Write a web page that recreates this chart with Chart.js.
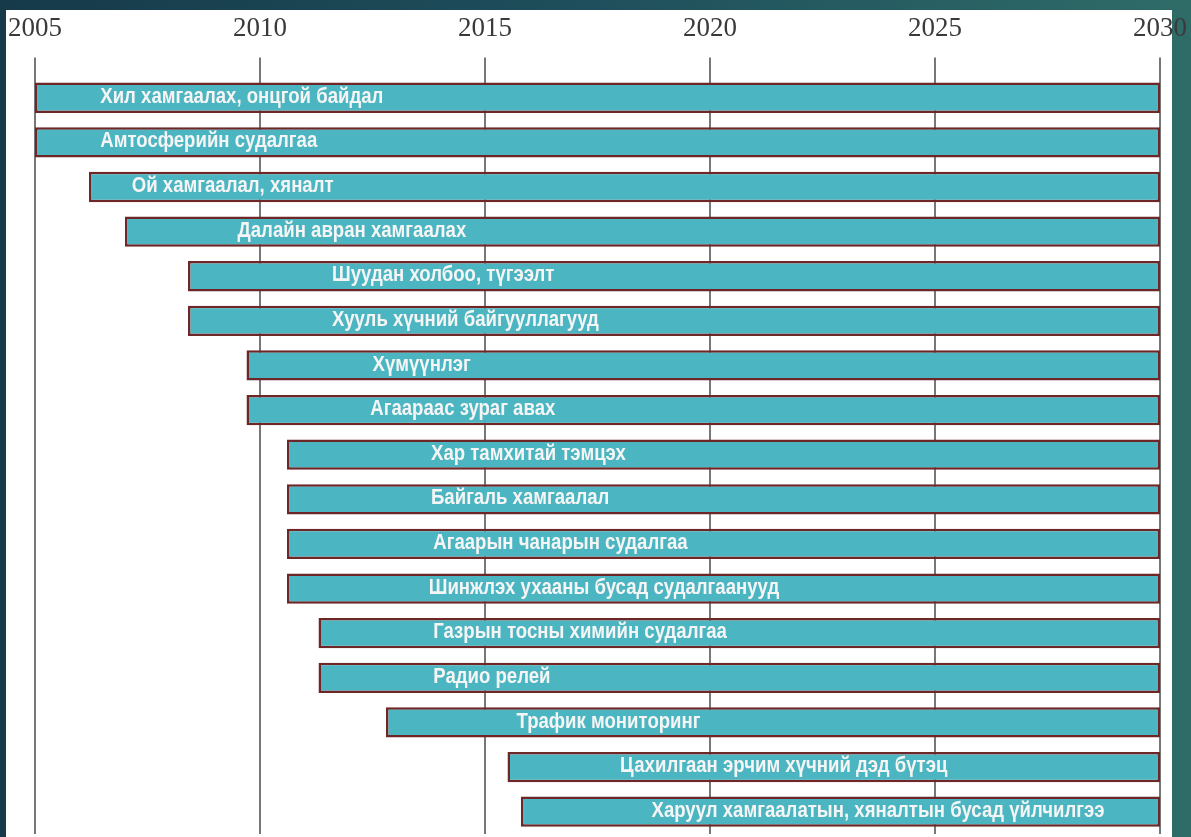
<!DOCTYPE html>
<html>
<head>
<meta charset="utf-8">
<script src="https://cdn.jsdelivr.net/npm/chart.js@4"></script>
<style>
  html, body { margin: 0; padding: 0; background: #1b4555; }
  #wrap { position: absolute; left: 0; top: 0; width: 1191px; height: 837px; }
</style>
</head>
<body>
<div id="wrap"><canvas id="c" width="1191" height="837"></canvas></div>
<script>
// ---- data ----
const categories = [
  "Хил хамгаалах, онцгой байдал",
  "Амтосферийн судалгаа",
  "Ой хамгаалал, хяналт",
  "Далайн авран хамгаалах",
  "Шуудан холбоо, түгээлт",
  "Хууль хүчний байгууллагууд",
  "Хүмүүнлэг",
  "Агаараас зураг авах",
  "Хар тамхитай тэмцэх",
  "Байгаль хамгаалал",
  "Агаарын чанарын судалгаа",
  "Шинжлэх ухааны бусад судалгаанууд",
  "Газрын тосны химийн судалгаа",
  "Радио релей",
  "Трафик мониторинг",
  "Цахилгаан эрчим хүчний дэд бүтэц",
  "Харуул хамгаалатын, хяналтын бусад үйлчилгээ"
];
const startYears = [2005, 2005, 2006.2, 2007.0, 2008.4, 2008.4, 2009.7, 2009.7, 2010.6, 2010.6, 2010.6, 2010.6, 2011.3, 2011.3, 2012.8, 2015.5, 2015.8];
const endYears   = [2030, 2030, 2030, 2030, 2030, 2030, 2030, 2030, 2030, 2030, 2030, 2030, 2030, 2030, 2030, 2030, 2030];
// year at which each label text begins
const labelYears = [2006.45, 2006.45, 2007.15, 2009.5, 2011.6, 2011.6, 2012.5, 2012.45, 2013.8, 2013.8, 2013.85, 2013.75, 2013.85, 2013.85, 2015.7, 2018.0, 2018.7];
const tickYears  = [2005, 2010, 2015, 2020, 2025, 2030];

const ranges = startYears.map((s, i) => [s, endYears[i]]);

const bgPlugin = {
  id: 'bg',
  beforeDraw(chart) {
    const ctx = chart.ctx;
    const w = chart.width, h = chart.height;
    ctx.save();
    const g = ctx.createLinearGradient(0, 0, w, 0);
    g.addColorStop(0, '#163a4a');
    g.addColorStop(0.5, '#1f4f5c');
    g.addColorStop(1, '#2f6c68');
    ctx.fillStyle = g;
    ctx.fillRect(0, 0, w, h);
    ctx.fillStyle = '#ffffff';
    ctx.fillRect(6, 10, 1166, h - 10);
    ctx.restore();
  }
};

const labelPlugin = {
  id: 'barLabels',
  afterDatasetsDraw(chart) {
    const ctx = chart.ctx;
    const xs = chart.scales.x;
    const meta = chart.getDatasetMeta(0);
    const sx = 0.845;
    ctx.save();
    ctx.font = 'bold 22px "Liberation Sans Narrow", "Liberation Sans", Arial, sans-serif';
    ctx.fillStyle = '#f5f5f5';
    ctx.textBaseline = 'middle';
    ctx.textAlign = 'left';
    meta.data.forEach((bar, i) => {
      const x = xs.getPixelForValue(labelYears[i]);
      ctx.save();
      ctx.translate(x, bar.y - 1);
      ctx.scale(sx, 1);
      ctx.fillText(categories[i], 0, 0);
      ctx.restore();
    });
    ctx.restore();
  }
};

new Chart(document.getElementById('c'), {
  type: 'bar',
  data: {
    labels: categories,
    datasets: [{
      data: ranges,
      backgroundColor: '#4bb6c1',
      borderColor: '#6e2626',
      borderWidth: 2.5,
      borderSkipped: false,
      barPercentage: 0.68,
      categoryPercentage: 1.0
    }]
  },
  options: {
    indexAxis: 'y',
    responsive: false,
    animation: false,
    layout: { padding: { left: 35, right: 31, top: 1, bottom: 3 } },
    plugins: { legend: { display: false }, tooltip: { enabled: false } },
    scales: {
      x: {
        position: 'top',
        min: 2005,
        max: 2030,
        afterBuildTicks(scale) { scale.ticks = tickYears.map(v => ({ value: v })); },
        afterFit(scale) { scale.paddingLeft = 0; scale.paddingRight = 0; },
        ticks: {
          color: '#3a3a3a',
          font: { family: '"Liberation Serif", "Times New Roman", serif', size: 27 },
          padding: 12,
          maxRotation: 0,
          autoSkip: false,
          callback: v => String(v)
        },
        grid: { color: '#777777', lineWidth: 2, tickLength: 18, drawTicks: true, tickColor: '#777777' },
        border: { display: false }
      },
      y: {
        display: false,
        grid: { display: false }
      }
    }
  },
  plugins: [bgPlugin, labelPlugin]
});
</script>
</body>
</html>
